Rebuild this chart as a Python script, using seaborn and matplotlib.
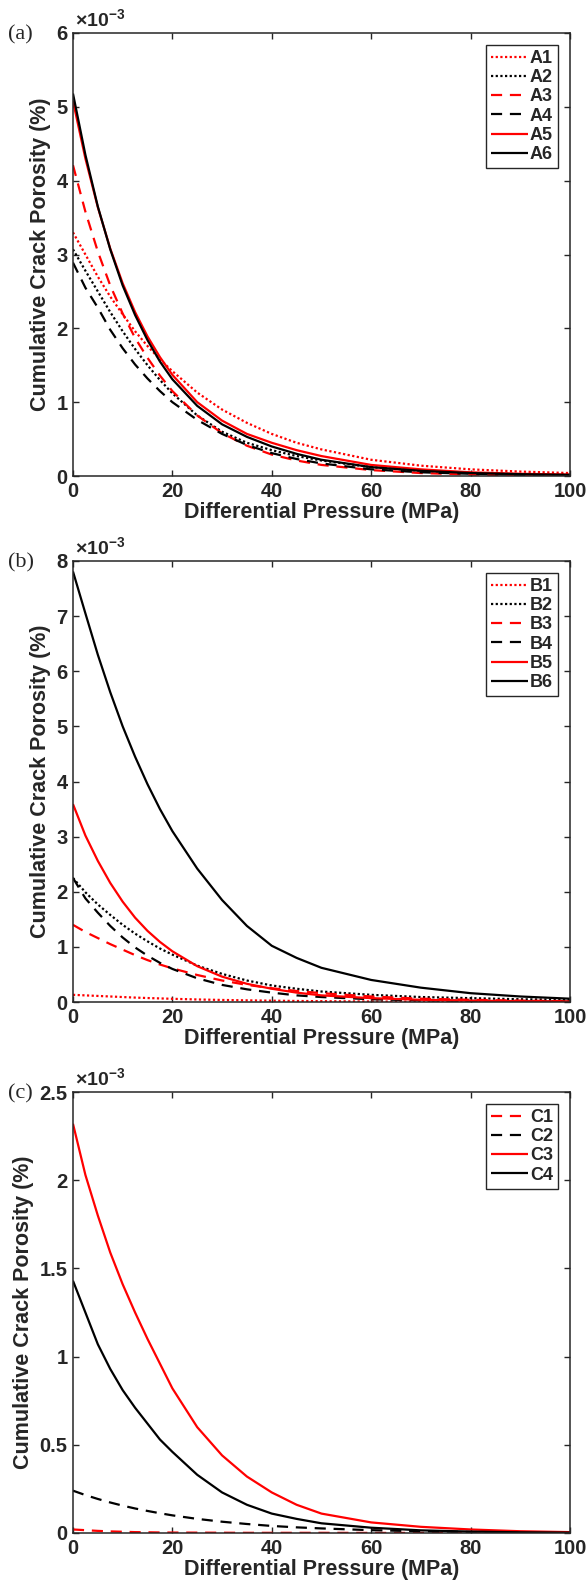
import numpy as np
import pandas as pd
import matplotlib
matplotlib.use("Agg")
import matplotlib.pyplot as plt
import seaborn as sns
from matplotlib.ticker import FixedLocator, FuncFormatter

sns.set_style("ticks")
plt.rcParams.update({
    "font.family": ["Liberation Sans", "DejaVu Sans"],
    "font.weight": "bold",
    "axes.labelweight": "bold",
    "mathtext.fontset": "custom",
    "mathtext.rm": "Liberation Sans",
    "mathtext.bf": "Liberation Sans:bold",
    "mathtext.it": "Liberation Sans:italic",
})

# ---------------- data (porosity in units of 1e-3 %) ----------------
pressure = [0, 2.5, 5, 7.5, 10, 12.5, 15, 17.5, 20, 25, 30, 35, 40, 45, 50, 60, 70, 80, 90, 100]

A1 = [3.30, 3.00, 2.70, 2.43, 2.19, 1.96, 1.76, 1.58, 1.42, 1.13, 0.90, 0.72, 0.57, 0.45, 0.36, 0.22, 0.14, 0.09, 0.06, 0.04]
A2 = [3.07, 2.78, 2.50, 2.22, 1.96, 1.72, 1.50, 1.30, 1.12, 0.82, 0.60, 0.45, 0.35, 0.27, 0.21, 0.12, 0.07, 0.04, 0.025, 0.015]
A3 = [4.21, 3.58, 3.04, 2.58, 2.20, 1.87, 1.60, 1.36, 1.15, 0.82, 0.58, 0.41, 0.29, 0.21, 0.15, 0.08, 0.04, 0.02, 0.01, 0.006]
A4 = [2.89, 2.55, 2.28, 1.98, 1.73, 1.51, 1.32, 1.15, 1.00, 0.76, 0.57, 0.42, 0.31, 0.23, 0.17, 0.09, 0.05, 0.03, 0.015, 0.01]
A5 = [5.08, 4.30, 3.64, 3.08, 2.61, 2.22, 1.89, 1.61, 1.37, 1.00, 0.75, 0.57, 0.45, 0.35, 0.27, 0.15, 0.09, 0.05, 0.03, 0.02]
A6 = [5.18, 4.35, 3.65, 3.07, 2.58, 2.18, 1.84, 1.55, 1.31, 0.95, 0.70, 0.53, 0.40, 0.30, 0.22, 0.12, 0.07, 0.04, 0.025, 0.015]

B1 = [0.13, 0.12, 0.11, 0.10, 0.09, 0.08, 0.072, 0.065, 0.058, 0.046, 0.037, 0.03, 0.024, 0.019, 0.015, 0.01, 0.006, 0.004, 0.003, 0.002]
B2 = [2.25, 1.99, 1.77, 1.58, 1.40, 1.24, 1.10, 0.97, 0.86, 0.66, 0.51, 0.39, 0.30, 0.24, 0.19, 0.13, 0.09, 0.07, 0.05, 0.04]
B3 = [1.40, 1.27, 1.16, 1.05, 0.95, 0.85, 0.76, 0.68, 0.61, 0.49, 0.39, 0.31, 0.25, 0.20, 0.16, 0.10, 0.06, 0.04, 0.025, 0.015]
B4 = [2.25, 1.88, 1.62, 1.38, 1.17, 0.99, 0.84, 0.71, 0.60, 0.43, 0.31, 0.23, 0.17, 0.12, 0.09, 0.05, 0.03, 0.02, 0.01, 0.006]
B5 = [3.59, 3.02, 2.56, 2.16, 1.82, 1.53, 1.29, 1.09, 0.92, 0.65, 0.46, 0.33, 0.24, 0.17, 0.12, 0.07, 0.04, 0.025, 0.015, 0.01]
B6 = [7.81, 7.05, 6.30, 5.62, 5.00, 4.45, 3.95, 3.50, 3.10, 2.42, 1.85, 1.38, 1.02, 0.80, 0.62, 0.40, 0.26, 0.16, 0.10, 0.06]

C1 = [0.02, 0.016, 0.012, 0.009, 0.007, 0.005, 0.004, 0.003, 0.0025, 0.002, 0.0015, 0.001, 0.001, 0.001, 0.001, 0.0005, 0.0005, 0.0005, 0.0005, 0.0005]
C2 = [0.24, 0.215, 0.193, 0.173, 0.155, 0.139, 0.125, 0.112, 0.10, 0.08, 0.064, 0.051, 0.04, 0.032, 0.026, 0.016, 0.01, 0.006, 0.004, 0.003]
C3 = [2.32, 2.03, 1.80, 1.59, 1.41, 1.25, 1.10, 0.96, 0.82, 0.60, 0.44, 0.32, 0.23, 0.16, 0.11, 0.06, 0.035, 0.02, 0.01, 0.005]
C4 = [1.43, 1.25, 1.07, 0.93, 0.81, 0.71, 0.62, 0.53, 0.46, 0.33, 0.23, 0.16, 0.11, 0.08, 0.055, 0.03, 0.015, 0.008, 0.004, 0.002]

panel_a_names = ["A1", "A2", "A3", "A4", "A5", "A6"]
panel_b_names = ["B1", "B2", "B3", "B4", "B5", "B6"]
panel_c_names = ["C1", "C2", "C3", "C4"]
panel_a_values = [A1, A2, A3, A4, A5, A6]
panel_b_values = [B1, B2, B3, B4, B5, B6]
panel_c_values = [C1, C2, C3, C4]

y_ticks_a = [0, 1, 2, 3, 4, 5, 6]
y_ticks_b = [0, 1, 2, 3, 4, 5, 6, 7, 8]
y_ticks_c = [0, 0.5, 1, 1.5, 2, 2.5]
x_ticks = [0, 20, 40, 60, 80, 100]

# ---------------- styles ----------------
RED = "#ff0000"
BLACK = "#000000"
DOT = (1, 1.1)
DASH = (5, 3.5)
SOLID = ""
styles_six = [(RED, DOT), (BLACK, DOT), (RED, DASH), (BLACK, DASH), (RED, SOLID), (BLACK, SOLID)]
styles_four = [(RED, DASH), (BLACK, DASH), (RED, SOLID), (BLACK, SOLID)]

panels = [
    ("(a)", panel_a_names, panel_a_values, styles_six, y_ticks_a, [0.1241, 1 - 476 / 1587, 0.8452, 443 / 1587]),
    ("(b)", panel_b_names, panel_b_values, styles_six, y_ticks_b, [0.1241, 1 - 1002 / 1587, 0.8452, 441 / 1587]),
    ("(c)", panel_c_names, panel_c_values, styles_four, y_ticks_c, [0.1241, 1 - 1533 / 1587, 0.8452, 441 / 1587]),
]

fig = plt.figure(figsize=(5.88, 15.87), dpi=100)

for tag, names, values, styles, yticks, rect in panels:
    ax = fig.add_axes(rect)
    rows = []
    for n, v in zip(names, values):
        for p, y in zip(pressure, v):
            rows.append({"P": p, "phi": y, "id": n})
    df = pd.DataFrame(rows)
    pal = {n: s[0] for n, s in zip(names, styles)}
    dsh = {n: s[1] for n, s in zip(names, styles)}
    sns.lineplot(data=df, x="P", y="phi", hue="id", style="id",
                 hue_order=names, style_order=names, palette=pal, dashes=dsh,
                 estimator=None, errorbar=None, sort=False, lw=1.6, ax=ax)
    for ln in ax.get_lines():
        ln.set_dash_capstyle("butt")
        ln.set_solid_capstyle("butt")

    ax.set_xlim(0, 100)
    ax.set_ylim(yticks[0], yticks[-1])
    ax.xaxis.set_major_locator(FixedLocator(x_ticks))
    ax.yaxis.set_major_locator(FixedLocator(yticks))
    ax.yaxis.set_major_formatter(FuncFormatter(lambda v, pos: "%g" % v))
    ax.tick_params(direction="in", top=True, right=True, length=4, width=1,
                   labelsize=14.5, pad=4, colors="#262626", labelcolor="#262626")
    for s in ax.spines.values():
        s.set_visible(True)
        s.set_linewidth(1.1)
        s.set_color("#262626")
    ax.set_xlabel("Differential Pressure (MPa)", fontsize=15.5, fontweight="bold",
                  color="#262626", labelpad=1)
    ax.set_ylabel("Cumulative Crack Porosity (%)", fontsize=15.5, fontweight="bold",
                  color="#262626", labelpad=4)

    handles, labels = ax.get_legend_handles_labels()
    leg = ax.legend(handles, labels, loc="upper right", frameon=True, fancybox=False,
                    edgecolor="#262626", framealpha=1, fontsize=13,
                    handlelength=2.05, handletextpad=0.1, labelspacing=0.12,
                    borderpad=0.3, borderaxespad=0.65)
    leg.get_frame().set_linewidth(1.0)
    for t in leg.get_texts():
        t.set_fontweight("bold")

    ax.text(0.004, 1.006, r"$\times\mathbf{10^{-3}}$", transform=ax.transAxes,
            ha="left", va="bottom", fontsize=14, color="#262626")
    top_px = (1 - (rect[1] + rect[3])) * 1587
    fig.text(8 / 588, 1 - (top_px + 1.5) / 1587, tag, family="Liberation Serif",
             fontweight="normal", fontsize=16, ha="left", va="center", color="#262626")

fig.savefig("out.png", dpi=100, facecolor="white")
